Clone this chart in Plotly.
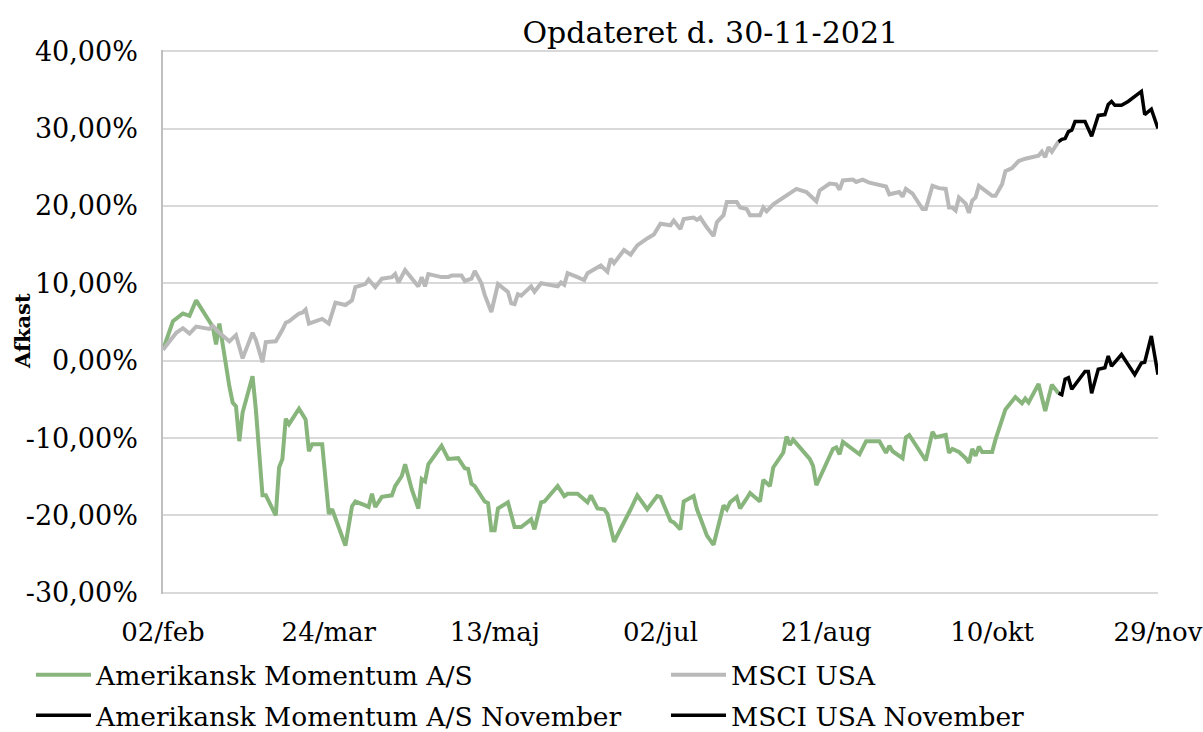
import pandas as pd
import plotly.graph_objects as go

START = "2021-02-02"

# Amerikansk Momentum A/S (days since 2 Feb 2021, return in %)
am_days = [0, 3, 6, 8, 10, 15, 16, 17, 20, 21, 22, 23, 24, 27, 28, 30, 31, 34, 35, 36,
           37, 38, 41, 43, 44, 45, 48, 50, 51, 55, 57, 58, 61, 62, 63, 64, 66, 69, 70, 72,
           73, 75, 77, 78, 79, 80, 84, 86, 89, 91, 92, 93, 94, 97, 98, 99, 100, 101, 104, 106,
           108, 111, 112, 114, 115, 119, 121, 122, 125, 128, 129, 131, 133, 134, 136, 140, 141, 143, 146, 149,
           150, 153, 154, 156, 157, 160, 161, 162, 164, 166, 169, 170, 171, 173, 174, 176, 177, 180, 181, 183,
           184, 187, 188, 189, 190, 195, 196, 197, 202, 203, 204, 205, 208, 210, 212, 216, 218, 219, 220, 223,
           224, 225, 230, 232, 233, 236, 237, 238, 240, 242, 243, 244, 245, 246, 247, 250, 251, 254, 257, 259,
           260, 261, 264, 266, 268, 270]
am_vals = [1.4, 5.1, 6.1, 5.8, 7.8, 4.4, 2.1, 4.8, -3.3, -5.4, -5.9, -10.4, -6.7, -2.0, -6.3, -17.4, -17.4, -20.0, -13.8, -12.7,
           -7.5, -8.2, -6.2, -7.6, -11.7, -10.8, -10.8, -19.8, -19.2, -23.9, -18.8, -18.2, -18.7, -18.9, -17.2, -18.9, -17.6, -17.4, -16.2, -14.9,
           -13.4, -16.6, -19.1, -15.3, -15.6, -13.4, -11.0, -12.7, -12.6, -13.9, -14.0, -15.9, -16.2, -18.2, -18.4, -21.9, -21.9, -19.1, -18.3, -21.5,
           -21.5, -20.5, -21.8, -18.3, -18.2, -16.2, -17.5, -17.2, -17.2, -18.3, -17.4, -19.1, -19.2, -19.8, -23.4, -20.2, -19.2, -17.4, -19.2, -17.5,
           -17.6, -20.7, -20.9, -21.8, -18.2, -17.5, -19.2, -20.3, -22.6, -23.8, -18.7, -19.2, -18.3, -17.6, -19.1, -17.8, -17.1, -18.2, -15.4, -16.2,
           -13.8, -11.9, -9.8, -10.9, -10.2, -12.7, -13.6, -16.1, -11.4, -11.2, -12.1, -10.5, -11.4, -12.1, -10.4, -10.4, -11.9, -11.0, -11.7, -12.6,
           -9.9, -9.6, -12.9, -9.2, -9.9, -9.6, -11.9, -11.4, -11.8, -12.6, -13.2, -11.4, -12.3, -11.1, -11.8, -11.8, -10.2, -6.3, -4.7, -5.5,
           -4.9, -5.4, -3.0, -6.5, -3.1, -4.2]

# MSCI USA
ms_days = [0, 3, 4, 6, 8, 10, 14, 15, 17, 20, 22, 24, 27, 28, 30, 31, 34, 36, 37, 38,
           41, 42, 43, 44, 48, 50, 52, 55, 57, 58, 61, 62, 64, 66, 69, 70, 71, 73, 75, 77,
           78, 79, 80, 84, 86, 87, 90, 91, 93, 94, 96, 97, 99, 101, 104, 105, 106, 107, 108, 111,
           112, 114, 119, 120, 121, 122, 125, 127, 128, 132, 134, 135, 136, 139, 141, 143, 146, 148, 150, 153,
           154, 156, 157, 160, 161, 162, 164, 166, 167, 169, 170, 173, 174, 176, 177, 180, 181, 182, 184, 187,
           188, 191, 194, 197, 198, 201, 203, 204, 205, 208, 209, 211, 213, 215, 217, 218, 219, 222, 223, 224,
           226, 229, 230, 232, 234, 236, 237, 238, 239, 240, 242, 243, 244, 245, 246, 250, 251, 253, 254, 256,
           258, 260, 264, 265, 266, 267, 268, 270]
ms_vals = [1.4, 3.2, 3.6, 4.2, 3.5, 4.4, 4.1, 4.5, 3.6, 2.5, 3.3, 0.3, 3.6, 2.7, -0.2, 2.4, 2.5, 4.0, 4.9, 5.1,
           6.1, 6.2, 6.6, 4.8, 5.4, 4.8, 7.5, 7.2, 7.8, 9.5, 9.9, 10.5, 9.5, 10.6, 10.8, 11.2, 10.1, 11.7, 10.6, 9.6,
           10.8, 9.6, 11.2, 10.8, 10.8, 11.0, 11.0, 10.3, 10.6, 11.6, 10.0, 8.5, 6.3, 9.9, 8.9, 7.4, 7.3, 8.6, 8.4, 9.6,
           8.9, 10.0, 9.6, 10.1, 9.8, 11.3, 10.8, 10.4, 11.3, 12.3, 11.5, 13.2, 12.6, 14.3, 13.7, 14.9, 15.8, 16.3, 17.7, 17.5,
           18.1, 17.0, 18.3, 18.5, 18.2, 18.5, 17.2, 16.1, 17.9, 18.8, 20.5, 20.5, 19.8, 19.6, 18.8, 18.8, 19.8, 19.3, 20.2, 21.0,
           21.3, 22.2, 21.8, 20.6, 22.0, 22.9, 22.8, 22.1, 23.3, 23.4, 23.1, 23.4, 23.0, 22.8, 22.6, 22.5, 21.5, 21.8, 21.2, 22.2,
           21.6, 19.6, 19.6, 22.6, 22.3, 22.2, 19.8, 19.8, 19.4, 21.1, 20.3, 19.1, 20.7, 21.1, 22.6, 21.3, 21.3, 22.8, 24.5, 24.9,
           25.8, 26.1, 26.5, 27.0, 26.3, 27.6, 27.0, 28.3]

# November segments
am_nov_days = [270, 271, 272, 273, 274, 278, 279, 280, 282, 284, 285, 286, 289, 293, 295, 296, 298, 300]
am_nov_vals = [-4.2, -4.4, -2.4, -2.2, -3.7, -1.4, -1.4, -4.2, -1.1, -0.9, 0.6, -0.7, 0.8, -1.8, -0.3, -0.2, 3.2, -1.8]

ms_nov_days = [270, 271, 272, 273, 274, 275, 278, 280, 282, 284, 285, 286, 287, 289, 291, 295, 296, 298, 300]
ms_nov_vals = [28.3, 28.6, 28.7, 29.6, 29.8, 30.9, 30.9, 29.0, 31.7, 31.8, 33.1, 33.5, 33.0, 33.0, 33.5, 34.8, 31.8, 32.5, 30.0]

series_names = ["Amerikansk Momentum A/S", "MSCI USA",
                "Amerikansk Momentum A/S November", "MSCI USA November"]

y_ticks = [-0.3, -0.2, -0.1, 0.0, 0.1, 0.2, 0.3, 0.4]
y_ticktext = ["-30,00%", "-20,00%", "-10,00%", "0,00%", "10,00%", "20,00%", "30,00%", "40,00%"]
x_tick_days = [0, 50, 100, 150, 200, 250, 300]
x_ticktext = ["02/feb", "24/mar", "13/maj", "02/jul", "21/aug", "10/okt", "29/nov"]

title_text = "Opdateret d. 30-11-2021"
y_title = "Afkast"


def to_dates(days):
    return pd.Timestamp(START) + pd.to_timedelta(days, unit="D")


def pct(vals):
    return [v / 100 for v in vals]


FONT = "DejaVu Serif"
GREEN = "#87b57b"
GREY = "#b9b9b9"
W, H = 1203, 732

fig = go.Figure()
fig.add_trace(go.Scatter(x=to_dates(am_days), y=pct(am_vals), mode="lines", name=series_names[0],
                         line=dict(color=GREEN, width=4), legend="legend", legendgroup="a"))
fig.add_trace(go.Scatter(x=to_dates(ms_days), y=pct(ms_vals), mode="lines", name=series_names[1],
                         line=dict(color=GREY, width=4), legend="legend2", legendgroup="b"))
fig.add_trace(go.Scatter(x=to_dates(am_nov_days), y=pct(am_nov_vals), mode="lines", name=series_names[2],
                         line=dict(color="#000000", width=3.5), legend="legend", legendgroup="c"))
fig.add_trace(go.Scatter(x=to_dates(ms_nov_days), y=pct(ms_nov_vals), mode="lines", name=series_names[3],
                         line=dict(color="#000000", width=3.5), legend="legend2", legendgroup="d"))

legend_common = dict(orientation="v", xref="container", yref="container",
                     xanchor="left", yanchor="top", y=1 - 651 / H,
                     font=dict(family=FONT, size=26.5, color="#000000"),
                     itemwidth=55, tracegroupgap=3, bgcolor="rgba(0,0,0,0)",
                     traceorder="grouped")

fig.update_layout(
    width=W, height=H,
    margin=dict(l=163, r=45, t=50, b=138, autoexpand=False),
    paper_bgcolor="white", plot_bgcolor="white",
    font=dict(family=FONT, size=27, color="#000000"),
    showlegend=True,
    legend=dict(x=31 / W, **legend_common),
    legend2=dict(x=666 / W, **legend_common),
    title=dict(text=title_text, x=0.55, xref="paper", xanchor="center",
               y=1 - 32 / H, yref="container", yanchor="middle",
               font=dict(family=FONT, size=30, color="#000000")),
)

fig.update_xaxes(
    type="date",
    range=[to_dates([0])[0], to_dates([300.01])[0]],
    tickvals=to_dates(x_tick_days), ticktext=x_ticktext,
    showgrid=False, zeroline=False, showline=False,
    ticks="", ticklabelstandoff=20, ticklabeloverflow="allow",
    tickfont=dict(family=FONT, size=26, color="#000000"),
)
fig.update_yaxes(
    range=[-0.3015, 0.4015],
    tickvals=y_ticks, ticktext=y_ticktext,
    showgrid=True, gridcolor="#d9d9d9", gridwidth=1.5,
    zeroline=False, showline=True, linecolor="#bfbfbf", linewidth=1.5,
    ticks="", ticklabelstandoff=18,
    tickfont=dict(family=FONT, size=27, color="#000000"),
)

fig.add_annotation(text=y_title, xref="paper", yref="paper",
                   x=(22 - 163) / 995, y=(594 - 331) / 544, xanchor="center", yanchor="middle",
                   textangle=-90, showarrow=False,
                   font=dict(family=FONT, size=21, color="#000000", weight="bold"))

fig.write_html("out.html", config={"displayModeBar": False},
               post_script="document.body.style.margin='0';")
